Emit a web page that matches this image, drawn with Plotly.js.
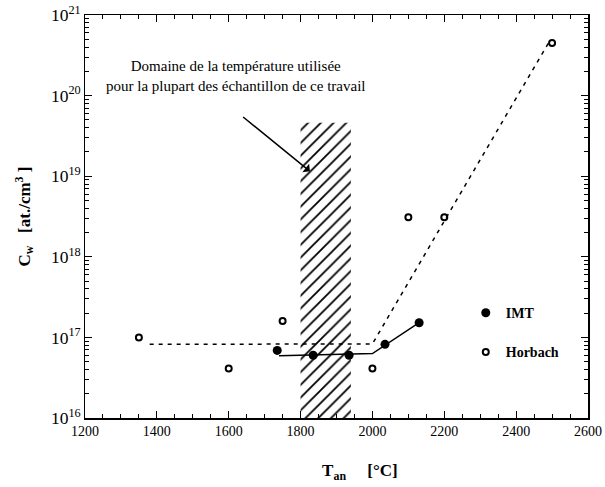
<!DOCTYPE html>
<html><head><meta charset="utf-8">
<script src="https://cdn.plot.ly/plotly-3.0.1.min.js"></script>
<style>body{margin:0;background:#fff}#c{width:605px;height:487px}</style>
</head><body><div id="c"></div>
<script>
// Data
const imtT = [1735, 1835, 1935, 2035, 2130];
const imtC = [6.9e16, 6.0e16, 6.0e16, 8.2e16, 1.52e17];
const horbT = [1350, 1600, 1750, 2000, 2100, 2200, 2500];
const horbC = [1.0e17, 4.1e16, 1.6e17, 4.1e16, 3.1e18, 3.1e18, 4.5e20];
const imtFitT = [1740, 2000, 2130];
const imtFitC = [5.9e16, 6.3e16, 1.52e17];
const horbFitT = [1380, 2000, 2490];
const horbFitC = [8.2e16, 8.3e16, 4.5e20];
const domainT = [1800, 1940];
const domainTop = 4.6e19;
const yBottom = 1e16;
const noteText = "Domaine de la température utilisée<br>pour la plupart des échantillon de ce travail";
const xTitle = "&nbsp;&nbsp;&nbsp;&nbsp;&nbsp;&nbsp;&nbsp;&nbsp;&nbsp;&nbsp;&nbsp;T<sub>an</sub>&nbsp;&nbsp;&nbsp;&nbsp;&nbsp;[°C]";
const yTitle = "C<sub>w</sub>&nbsp;&nbsp;&nbsp;[at./cm<sup>3</sup> ]";

const serif = '"Liberation Serif", "DejaVu Serif", serif';

const traces = [
  {
    type: 'bar',
    x: [(domainT[0] + domainT[1]) / 2],
    y: [domainTop - yBottom],
    base: [yBottom],
    width: [domainT[1] - domainT[0]],
    marker: {color: 'rgba(0,0,0,0)', line: {width: 0},
      pattern: {shape: '/', size: 9, solidity: 0.2, fgcolor: '#000', bgcolor: '#fff', fillmode: 'replace'}},
    showlegend: false, hoverinfo: 'skip'
  },
  {
    type: 'scatter', mode: 'lines', x: horbFitT, y: horbFitC,
    line: {color: '#000', width: 1.5, dash: '4px,5px'}, showlegend: false
  },
  {
    type: 'scatter', mode: 'lines', x: imtFitT, y: imtFitC,
    line: {color: '#000', width: 1.5}, showlegend: false
  },
  {
    type: 'scatter', mode: 'markers', name: 'IMT', x: imtT, y: imtC,
    marker: {symbol: 'circle', size: 9, color: '#000'}, legendgroup: 'a'
  },
  {
    type: 'scatter', mode: 'markers', name: 'Horbach', x: horbT, y: horbC,
    marker: {symbol: 'circle-open', size: 6, color: '#000', line: {width: 2, color: '#000'}}, legendgroup: 'b'
  }
];

const layout = {
  width: 605, height: 487,
  margin: {l: 85, r: 17, t: 15, b: 69},
  paper_bgcolor: '#fff', plot_bgcolor: '#fff',
  font: {family: serif, color: '#000', size: 13},
  barmode: 'overlay',
  xaxis: {
    range: [1200, 2600], dtick: 200, tick0: 1200,
    showgrid: false, zeroline: false,
    showline: true, linecolor: '#000', linewidth: 1.5, mirror: 'ticks',
    ticks: 'inside', ticklen: 7, tickwidth: 1.2, tickcolor: '#000',
    minor: {dtick: 50, ticks: 'inside', ticklen: 4, tickwidth: 1, tickcolor: '#000', showgrid: false},
    tickfont: {family: serif, size: 14},
    title: {text: xTitle, font: {family: serif, size: 17, weight: 'bold'}, standoff: 26}
  },
  yaxis: {
    type: 'log', range: [16, 21], dtick: 1,
    exponentformat: 'power', showexponent: 'all',
    showgrid: false, zeroline: false,
    showline: true, linecolor: '#000', linewidth: 1.5, mirror: 'ticks',
    ticks: 'inside', ticklen: 7, tickwidth: 1.2, tickcolor: '#000',
    minor: {dtick: 'D1', ticks: 'inside', ticklen: 4, tickwidth: 1, tickcolor: '#000', showgrid: false},
    tickfont: {family: serif, size: 14},
    title: {text: yTitle, font: {family: serif, size: 17, weight: 'bold'}, standoff: 16}
  },
  legend: {
    x: 0.757, y: 0.30, xanchor: 'left', yanchor: 'top',
    bgcolor: 'rgba(0,0,0,0)', borderwidth: 0,
    font: {family: serif, size: 14, weight: 'bold'},
    tracegroupgap: 18, itemwidth: 30
  },
  annotations: [
    {
      x: 1620, y: 20.243, xref: 'x', yref: 'y', text: noteText, showarrow: false,
      xanchor: 'center', yanchor: 'middle', align: 'center',
      font: {family: serif, size: 15}
    },
    {
      x: 1826, y: 19.06, xref: 'x', yref: 'y', ax: 1636, ay: 19.75, axref: 'x', ayref: 'y',
      text: '', showarrow: true, arrowhead: 1, arrowsize: 1.2, arrowwidth: 1.5, arrowcolor: '#000'
    }
  ],
  showlegend: true
};

Plotly.newPlot('c', traces, layout, {staticPlot: true, displayModeBar: false});
</script>
</body></html>
